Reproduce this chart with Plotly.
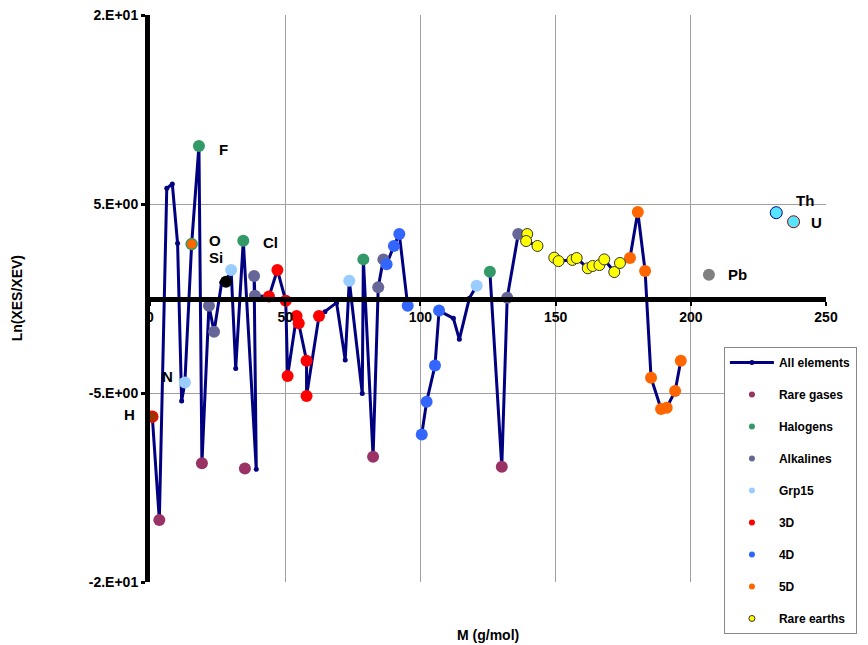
import plotly.graph_objects as go

# ---- "All elements" line (ordered by atomic mass; None = missing element) ----
all_names = ["H", "He", "Li", "Be", "B", "C", "N", "O", "F", "Ne", "Na", "Mg", "Al", "Si", "P", "S",
             "Cl", "Ar", "K", "Ca", "Sc", "Ti", "V", "Cr", "Mn", "Fe", "Co", "Ni", "Cu", "Zn", "Ga",
             "Ge", "As", "Se", "Br", "Kr", "Rb", "Sr", "Y", "Zr", "Nb", "Mo", "Tc", "Ru", "Rh", "Pd",
             "Ag", "Cd", "In", "Sn", "Sb", "Te", "I", "Xe", "Cs", "Ba", "La", "Ce", "Nd", "Pm", "Sm",
             "Eu", "Gd", "Tb", "Dy", "Ho", "Er", "Tm", "Yb", "Lu", "Hf", "Ta", "W", "Re", "Os", "Ir",
             "Pt", "Au"]
all_x = [0.85, 3.45, 6.2, 8.25, 10.2, 11.7, 12.9, 15.4, 18.1, 19.2, 21.8, 23.7, 26.5, 28.1, 30.0, 31.7,
         34.5, 39.3, 38.5, 38.8, 44.0, 47.1, 50.2, 50.9, 54.2, 55.0, 57.9, 57.9, 62.5, 64.7, 69.0,
         72.2, 73.7, 78.5, 78.9, 82.5, 84.4, 86.3, 87.5, 90.2, 92.2, 95.3, None, 100.5, 102.3, 105.4,
         106.9, 112.2, 114.4, 118.1, 120.8, None, 125.7, 130.1, 132.1, 136.2, 139.5, 139.1, 143.3, None, 149.5,
         151.1, 156.2, 157.8, 161.9, 163.7, 166.2, 168.0, 171.7, 173.8, 177.5, 180.4, 183.1, 185.3, 189.0, 191.1,
         194.2, 196.3]
all_y = [-6.25, -11.72, 5.83, 6.06, 2.92, -5.42, -4.45, 2.88, 8.07, -8.72, -0.38, -1.76, 0.84, 0.89, 1.51, -3.71,
         3.06, -9.04, 1.19, 0.15, 0.10, 1.51, -0.12, -4.10, -0.93, -1.31, -3.29, -5.16, -0.93, -0.70, -0.22,
         -3.25, 0.94, -5.02, 2.07, -8.37, 0.59, 2.07, 1.81, 2.78, 3.41, -0.38, None, -7.19, -5.46, -3.55,
         -0.64, -1.05, -2.16, 0.01, 0.68, None, 1.42, -8.90, 0.04, 3.41, 3.41, 3.04, 2.78, None, 2.16,
         1.98, 2.04, 2.14, 1.60, 1.72, 1.77, 2.07, 1.40, 1.88, 2.14, 4.58, 1.46, -4.19, -5.85, -5.78,
         -4.90, -3.29]

# ---- group series ----
rare_x = [3.45, 19.2, 35.1, 82.5, 130.1]
rare_y = [-11.72, -8.72, -9.0, -8.37, -8.90]
halo_x = [18.1, 34.5, 78.9, 125.7]
halo_y = [8.07, 3.06, 2.07, 1.42]
alk_x = [21.8, 23.7, 38.5, 38.8, 84.4, 86.3, 132.1, 136.2]
alk_y = [-0.38, -1.76, 1.19, 0.15, 0.59, 2.07, 0.04, 3.41]
g15_x = [12.9, 30.0, 73.7, 120.8]
g15_y = [-4.45, 1.51, 0.94, 0.68]
d3_x = [44.0, 47.1, 50.2, 50.9, 54.2, 55.0, 57.9, 57.9, 62.5]
d3_y = [0.10, 1.51, -0.12, -4.10, -0.93, -1.31, -3.29, -5.16, -0.93]
d4_x = [87.5, 90.2, 92.2, 95.3, 100.5, 102.3, 105.4, 106.9]
d4_y = [1.81, 2.78, 3.41, -0.38, -7.19, -5.46, -3.55, -0.64]
d5_x = [177.5, 180.4, 183.1, 185.3, 189.0, 191.1, 194.2, 196.3]
d5_y = [2.14, 4.58, 1.46, -4.19, -5.85, -5.78, -4.90, -3.29]
re_x = [139.5, 139.1, 143.3, 149.5, 151.1, 156.2, 157.8, 161.9, 163.7, 166.2, 168.0, 171.7, 173.8]
re_y = [3.41, 3.04, 2.78, 2.16, 1.98, 2.04, 2.14, 1.60, 1.72, 1.77, 2.07, 1.40, 1.88]

# single labelled elements
h_x, h_y = [0.85], [-6.25]
o_x, o_y = [15.4], [2.88]
si_x, si_y = [28.1], [0.89]
pb_x, pb_y = [206.7], [1.26]
th_x, th_y = [231.6], [4.54]
u_x, u_y = [238.0], [4.06]

x_tickvals = [0, 50, 100, 150, 200, 250]
y_tickvals = [-15, -5, 5, 15]
y_ticktext = ["-2.E+01", "-5.E+00", "5.E+00", "2.E+01"]

labels = ["N", "O", "Si", "F", "Cl", "Pb", "Th", "U"]
label_x = [6.6, 24.1, 24.4, 27.0, 44.5, 217.3, 242.2, 246.5]
label_y = [-4.15, 3.05, 2.15, 7.9, 2.95, 1.25, 5.2, 4.0]

legend_names = ["All elements", "Rare gases", "Halogens", "Alkalines", "Grp15", "3D", "4D", "5D", "Rare earths"]
legend_colors = ["#000080", "#993366", "#339966", "#666699", "#99CCFF", "#FF0000", "#3366FF", "#FF6600", "#FFFF00"]

FONT = "Liberation Sans, Arial, sans-serif"

fig = go.Figure()

fig.add_trace(go.Scatter(x=all_x, y=all_y, mode="lines+markers", connectgaps=False,
                         line=dict(color="#000080", width=3),
                         marker=dict(size=5, color="#000080"), showlegend=False, hoverinfo="skip"))

groups = [(rare_x, rare_y, "#993366", None), (halo_x, halo_y, "#339966", None),
          (alk_x, alk_y, "#666699", None), (g15_x, g15_y, "#99CCFF", None),
          (d3_x, d3_y, "#FF0000", None), (d4_x, d4_y, "#3366FF", None),
          (d5_x, d5_y, "#FF6600", None), (re_x, re_y, "#FFFF00", "#333333")]
for gx, gy, col, edge in groups:
    fig.add_trace(go.Scatter(x=gx, y=gy, mode="markers", showlegend=False, hoverinfo="skip",
                             marker=dict(size=12 if edge is None else 11, color=col,
                                         line=dict(width=1 if edge else 0, color=edge or col))))

singles = [(h_x, h_y, "#993300", "#FF0000", 1.5), (o_x, o_y, "#FF6600", "#339966", 1.5),
           (si_x, si_y, "#000000", "#000000", 0), (pb_x, pb_y, "#808080", "#808080", 0),
           (th_x, th_y, "#55E5FF", "#000080", 1), (u_x, u_y, "#55E5FF", "#990000", 1)]
for sx, sy, col, edge, w in singles:
    fig.add_trace(go.Scatter(x=sx, y=sy, mode="markers", showlegend=False, hoverinfo="skip",
                             marker=dict(size=12 if w < 1.2 else 11, color=col, line=dict(width=w, color=edge))))

# legend-only entries
for i, (nm, col) in enumerate(zip(legend_names, legend_colors)):
    if i == 0:
        fig.add_trace(go.Scatter(x=[None], y=[None], mode="lines+markers", name=nm, legendgroup=nm,
                                 line=dict(color=col, width=3), marker=dict(size=5, color=col)))
    else:
        fig.add_trace(go.Scatter(x=[None], y=[None], mode="markers", name=nm, legendgroup=nm,
                                 marker=dict(size=6, color=col,
                                             line=dict(width=1 if nm == "Rare earths" else 0, color="#333333"))))

for t, lx, ly in zip(labels, label_x, label_y):
    fig.add_annotation(x=lx, y=ly, xref="x", yref="y", text=t, showarrow=False,
                       font=dict(family=FONT, size=15, color="black", weight="bold"))
# "H" sits left of the y axis (outside the x range) -> paper x reference
fig.add_annotation(x=-0.0303, y=-6.15, xref="paper", yref="y", text="H", showarrow=False,
                   xanchor="center", yanchor="middle",
                   font=dict(family=FONT, size=15, color="black", weight="bold"))

fig.add_annotation(x=0.5, y=-0.075, xref="paper", yref="paper", text="M (g/mol)", showarrow=False,
                   xanchor="center", yanchor="top",
                   font=dict(family=FONT, size=14, color="black", weight="bold"))
fig.add_annotation(x=-0.197, y=0.5, xref="paper", yref="paper", text="Ln(XES/XEV)", showarrow=False,
                   textangle=-90, xanchor="center", yanchor="middle",
                   font=dict(family=FONT, size=14, color="black", weight="bold"))

# page body has an 8px margin, so the figure is 8px smaller and shifted
fig.update_layout(
    width=860, height=637,
    margin=dict(l=142, r=42, t=7, b=63, autoexpand=False),
    paper_bgcolor="white", plot_bgcolor="white",
    showlegend=True,
    legend=dict(x=0.849, y=0.4145, xanchor="left", yanchor="top", bgcolor="white",
                bordercolor="#888888", borderwidth=1, traceorder="grouped", tracegroupgap=13,
                itemwidth=44,
                font=dict(family=FONT, size=12, color="black", weight="bold")),
    xaxis=dict(range=[0, 250], tickvals=x_tickvals, anchor="free", position=0.5, automargin=False,
               showline=True, linecolor="black", linewidth=5,
               ticks="outside", ticklen=4, tickwidth=2, tickcolor="black",
               showgrid=True, gridcolor="#A0A0A0", gridwidth=1, zeroline=False,
               tickfont=dict(family=FONT, size=14, color="black", weight="bold")),
    yaxis=dict(range=[-15, 15], tickvals=y_tickvals, ticktext=y_ticktext, automargin=False,
               ticklabeloverflow="allow",
               showline=True, linecolor="black", linewidth=5,
               ticks="outside", ticklen=4, tickwidth=3, tickcolor="black",
               showgrid=True, gridcolor="#A0A0A0", gridwidth=1, zeroline=False,
               tickfont=dict(family=FONT, size=14, color="black", weight="bold")),
)

fig.write_html("out.html")
